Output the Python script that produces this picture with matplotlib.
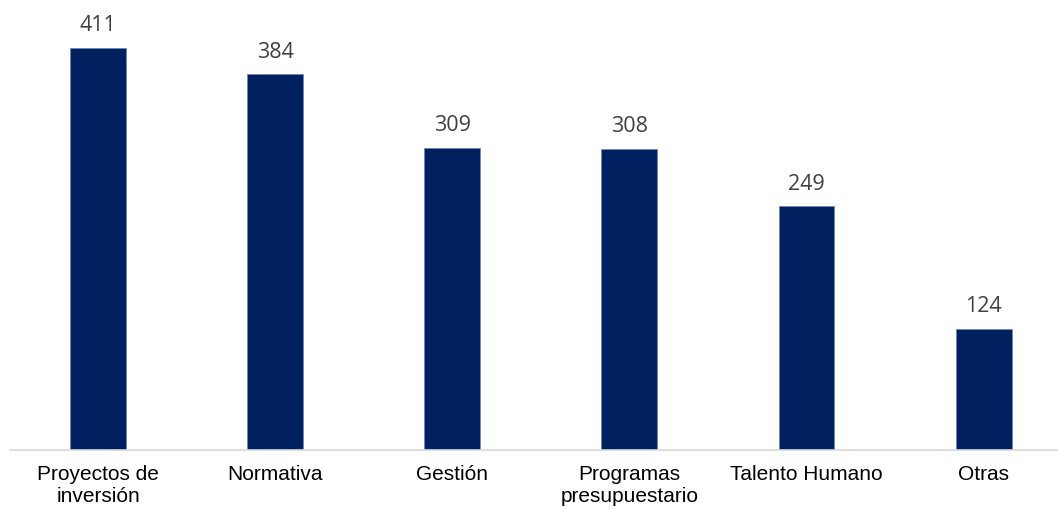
import matplotlib
matplotlib.use("Agg")
import matplotlib.pyplot as plt

# ── data ──────────────────────────────────────────────────────────────────────
categories = ["Proyectos de\ninversión", "Normativa", "Gestión",
              "Programas\npresupuestario", "Talento Humano", "Otras"]
values = [411, 384, 309, 308, 249, 124]

BAR_COLOR = "#002060"

fig = plt.figure(figsize=(10.58, 5.10), dpi=100)
ax = fig.add_axes([0.009, 0.1157, 0.991, 0.8843])

x = range(len(categories))
ax.bar(x, values, width=0.316, color=BAR_COLOR,
       edgecolor="#6f88b8", linewidth=0.6)

for xi, v in zip(x, values):
    ax.annotate(f"{v}", (xi, v), xytext=(0, 9), textcoords="offset points",
                ha="center", va="bottom", fontsize=15.5,
                family="Open Sans", color="#404040")

ax.set_xlim(-0.5, 5.42)
ax.set_ylim(0, 461)
ax.set_xticks(list(x))
ax.set_xticklabels(categories, fontsize=15, family="Liberation Sans",
                   color="black", linespacing=1.2)
ax.tick_params(axis="x", length=0, pad=10)
ax.set_yticks([])

for side in ("top", "right", "left"):
    ax.spines[side].set_visible(False)
ax.spines["bottom"].set_color("#d9d9d9")
ax.spines["bottom"].set_linewidth(1.2)

fig.savefig("out.png", dpi=100)
